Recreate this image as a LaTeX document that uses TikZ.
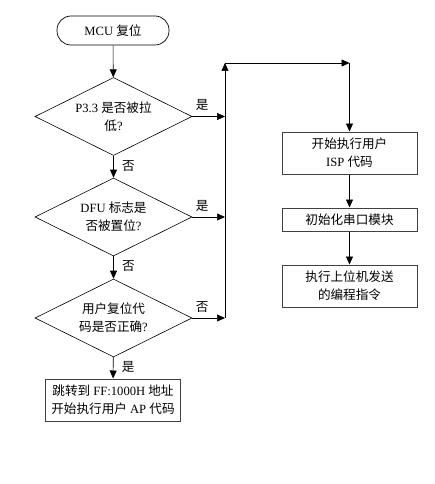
\documentclass[tikz,border=0pt]{standalone}
\usepackage{fontspec}
\setmainfont{Liberation Serif}
\newfontfamily\cjk{Noto Sans CJK SC}
\usepackage{tikz}
\usetikzlibrary{arrows.meta}
\usetikzlibrary{shapes.geometric}
\newcommand{\zh}[1]{{\cjk #1}}

\begin{document}
\begin{tikzpicture}[
		x=1pt,y=-1pt,
		every node/.style={font=\fontsize{12.6}{18}\selectfont,align=center},
		MyStart/.style={draw,line width=0.7pt,rounded corners=14pt,minimum width=112pt,minimum height=29pt,inner sep=0pt},
		MyTest/.style={draw,line width=0.6pt,diamond,shape aspect=2,minimum width=157pt,minimum height=78pt,inner sep=0pt},
		MyBox/.style={draw=black!75,line width=1pt,minimum width=135pt,inner sep=0pt},
		Arrows/.style={-{Triangle[length=8pt,width=7pt]},line width=0.6pt},
		Lines/.style={line width=0.6pt}
		]
		\useasboundingbox (0,0) rectangle (434,484);
		
		% left column
		\node[MyStart] (reset) at (113,30.5) {MCU \zh{复位}};
		\node[MyTest] (pin) at (113.5,116.5) {P3.3 \zh{是否被拉}\\\zh{低}?};
		\node[MyTest] (dfu) at (113.5,217) {DFU \zh{标志是}\\\zh{否被置位}?};
		\node[MyTest] (code) at (113.5,318) {\zh{用户复位代}\\\zh{码是否正确}?};
		\node[MyBox,minimum height=42pt] (jump) at (113,400) {\zh{跳转到} FF:1000H \zh{地址}\\\zh{开始执行用户} AP \zh{代码}};
		
		% right column
		\node[MyBox,minimum height=42pt] (isp) at (349.5,153) {\zh{开始执行用户}\\ISP \zh{代码}};
		\node[MyBox,minimum height=23pt] (uart) at (349.5,219.5) {\zh{初始化串口模块}};
		\node[MyBox,minimum height=42pt] (host) at (349.5,286) {\zh{执行上位机发送}\\\zh{的编程指令}};
		
		\coordinate (Ja) at (225,116.5);
		\coordinate (Jb) at (225,217);
		\coordinate (Jc) at (225,318);
		\coordinate (Top) at (225,63);
		\coordinate (TopR) at (349.5,63);
		
		\draw[Arrows] (reset) -- (pin);
		\draw[Arrows] (pin) -- (dfu) node[pos=0.45,right=5pt]{\zh{否}};
		\draw[Arrows] (dfu) -- (code) node[pos=0.45,right=5pt]{\zh{否}};
		\draw[Arrows] (code) -- (jump) node[pos=0.45,right=5pt]{\zh{是}};
		
		\draw[Arrows] (pin.east) -- (Ja) node[pos=0.3,above=2pt]{\zh{是}};
		\draw[Arrows] (dfu.east) -- (Jb) node[pos=0.3,above=2pt]{\zh{是}};
		\draw[Arrows] (code.east) -- (Jc) node[pos=0.3,above=2pt]{\zh{否}};
		
		\draw[Arrows] (Jc) -- (Top);
		\draw[Arrows] (Top) -- (TopR);
		\draw[Arrows] (TopR) -- (isp);
		
		\draw[Arrows] (isp) -- (uart);
		\draw[Arrows] (uart) -- (host);
		
		\end{tikzpicture}
\end{document}
